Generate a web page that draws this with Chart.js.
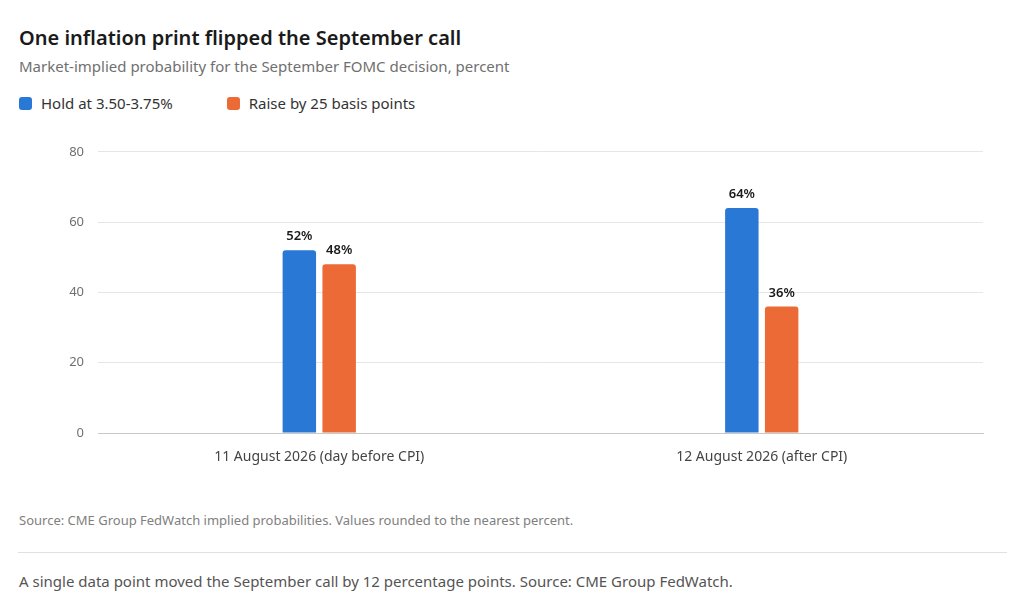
<!DOCTYPE html>
<html>
<head>
<meta charset="utf-8">
<script src="https://cdn.jsdelivr.net/npm/chart.js@4"></script>
<style>
  body { margin: 0; width: 1024px; height: 602px; background: #fff; font-family: "Segoe UI", "Noto Sans", sans-serif; position: relative; overflow: hidden; }
  .title { position: absolute; left: 19px; top: 24px; font-size: 20px; font-weight: 600; color: #1a1a1a; }
  .subtitle { position: absolute; left: 19px; top: 56px; font-size: 15px; color: #707070; }
  .legend { position: absolute; left: 19px; top: 93px; font-size: 15px; color: #333; display: flex; gap: 54px; }
  .legend span { display: inline-block; width: 13px; height: 13px; border-radius: 3px; margin-right: 9px; vertical-align: -1px; }
  .note { position: absolute; left: 19px; top: 511px; font-size: 13px; color: #808080; }
  .rule { position: absolute; left: 18px; width: 989px; top: 552px; border-top: 1px solid #e0e0e0; }
  .foot { position: absolute; left: 19px; top: 571px; font-size: 15px; color: #555; }
  #wrap { position: absolute; left: 50px; top: 130px; width: 935px; height: 340px; }
</style>
</head>
<body>
<div class="title">One inflation print flipped the September call</div>
<div class="subtitle">Market-implied probability for the September FOMC decision, percent</div>
<div class="legend">
  <div><span style="background:#2a78d6"></span>Hold at 3.50-3.75%</div>
  <div><span style="background:#ec6a35"></span>Raise by 25 basis points</div>
</div>
<div id="wrap"><canvas id="chart"></canvas></div>
<div class="note">Source: CME Group FedWatch implied probabilities. Values rounded to the nearest percent.</div>
<div class="rule"></div>
<div class="foot">A single data point moved the September call by 12 percentage points. Source: CME Group FedWatch.</div>
<script>
const categories = ['11 August 2026 (day before CPI)', '12 August 2026 (after CPI)'];
const holdValues = [52, 64];
const raiseValues = [48, 36];
const yTicks = [0, 20, 40, 60, 80];

// draws "52%" style labels above each bar
const valueLabels = {
  id: 'valueLabels',
  afterDatasetsDraw(chart) {
    const ctx = chart.ctx;
    ctx.save();
    ctx.font = '600 13px "Segoe UI", "Noto Sans", sans-serif';
    ctx.fillStyle = '#1a1a1a';
    ctx.textAlign = 'center';
    ctx.textBaseline = 'bottom';
    chart.data.datasets.forEach((ds, i) => {
      chart.getDatasetMeta(i).data.forEach((bar, j) => {
        ctx.fillText(ds.data[j] + '%', bar.x, bar.y - 7);
      });
    });
    ctx.restore();
  }
};

new Chart(document.getElementById('chart'), {
  type: 'bar',
  data: {
    labels: categories,
    datasets: [
      { label: 'Hold at 3.50-3.75%', data: holdValues, backgroundColor: '#2a78d6', borderRadius: { topLeft: 3, topRight: 3 }, borderSkipped: 'bottom' },
      { label: 'Raise by 25 basis points', data: raiseValues, backgroundColor: '#ec6a35', borderRadius: { topLeft: 3, topRight: 3 }, borderSkipped: 'bottom' }
    ]
  },
  options: {
    responsive: true,
    maintainAspectRatio: false,
    animation: false,
    layout: { padding: { top: 17, right: 2 } },
    datasets: { bar: { barPercentage: 0.84, categoryPercentage: 0.18 } },
    plugins: { legend: { display: false }, tooltip: { enabled: false } },
    scales: {
      x: {
        grid: { display: false },
        border: { color: '#c8c8c8' },
        ticks: { color: '#444', font: { size: 14, family: '"Segoe UI", "Noto Sans", sans-serif' }, padding: 8 },
        afterFit: (axis) => { axis.height = 37; }
      },
      y: {
        min: 0, max: 80,
        afterBuildTicks: (axis) => { axis.ticks = yTicks.map(v => ({ value: v })); },
        grid: { color: '#e6e6e6', drawTicks: false },
        border: { display: false },
        ticks: { color: '#707070', font: { size: 13, family: '"Segoe UI", "Noto Sans", sans-serif' }, padding: 14 },
        afterFit: (axis) => { axis.width = 48; }
      }
    }
  },
  plugins: [valueLabels]
});
</script>
</body>
</html>
